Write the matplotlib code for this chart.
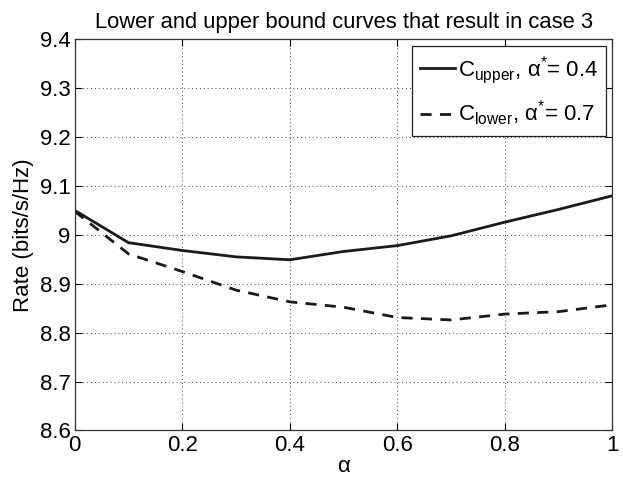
import matplotlib
matplotlib.use("Agg")
import matplotlib.pyplot as plt

plt.rcParams['font.family'] = ['Liberation Sans', 'DejaVu Sans']
plt.rcParams['mathtext.fontset'] = 'custom'
plt.rcParams['mathtext.rm'] = 'Liberation Sans'
plt.rcParams['mathtext.it'] = 'Liberation Sans:italic'

alpha = [0, 0.1, 0.2, 0.3, 0.4, 0.5, 0.6, 0.7, 0.8, 0.9, 1.0]
c_upper = [9.050, 8.984, 8.968, 8.955, 8.949, 8.966, 8.978, 8.998, 9.026, 9.052, 9.080]
c_lower = [9.048, 8.961, 8.925, 8.887, 8.863, 8.852, 8.831, 8.826, 8.838, 8.843, 8.857]
xticks = [0, 0.2, 0.4, 0.6, 0.8, 1]
xtick_labels = ['0', '0.2', '0.4', '0.6', '0.8', '1']
yticks = [8.6, 8.7, 8.8, 8.9, 9.0, 9.1, 9.2, 9.3, 9.4]
ytick_labels = ['8.6', '8.7', '8.8', '8.9', '9', '9.1', '9.2', '9.3', '9.4']

fig = plt.figure(figsize=(6.23, 4.78), dpi=100)
ax = fig.add_axes([0.120, 0.0994, 0.863, 0.8186])

ax.plot(alpha, c_upper, '-', lw=2, color='#1a1a1a',
        label=r'C$_{\rm upper}$, α$^{*}$= 0.4')
ax.plot(alpha, c_lower, '--', lw=2, color='#1a1a1a', dashes=(4, 3),
        label=r'C$_{\rm lower}$, α$^{*}$= 0.7')

ax.set_xlim(0, 1)
ax.set_ylim(8.6, 9.4)
ax.set_xticks(xticks)
ax.set_xticklabels(xtick_labels)
ax.set_yticks(yticks)
ax.set_yticklabels(ytick_labels)
ax.tick_params(direction='in', top=True, right=True, labelsize=16, length=5, pad=3)
ax.grid(True, linestyle=(0, (1, 3)), color='#444444', lw=0.7)
for s in ax.spines.values():
    s.set_color('#333333')
    s.set_linewidth(0.9)

ax.set_xlabel('α', fontsize=16, labelpad=0)
ax.set_ylabel('Rate (bits/s/Hz)', fontsize=16, labelpad=4)
ax.set_title('Lower and upper bound curves that result in case 3', fontsize=15.8, pad=8)

leg = ax.legend(loc='upper right', fontsize=16, fancybox=False, framealpha=1,
                edgecolor='#222222', handlelength=1.6, handletextpad=0.1,
                borderaxespad=0.3, borderpad=0.35, labelspacing=0.6)
leg.get_frame().set_linewidth(0.9)

fig.savefig('out.png', dpi=100)
